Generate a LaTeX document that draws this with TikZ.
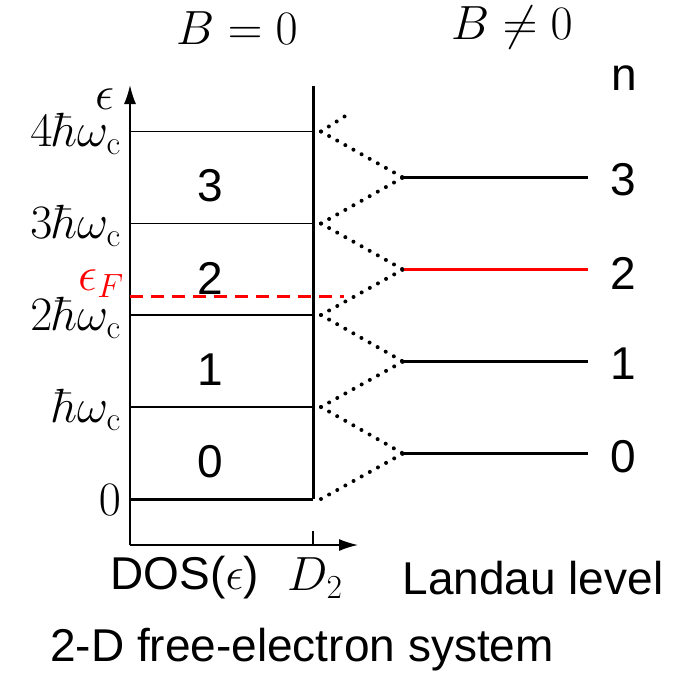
\RequirePackage{fix-cm}
\documentclass[tikz,border=0pt]{standalone}
\usepackage{fontspec}
\newfontfamily\arialf{Liberation Sans}
\usetikzlibrary{arrows.meta}
\begin{document}
\begin{tikzpicture}[x=1pt,y=-1pt,
  sf/.style={font=\arialf\fontsize{46}{52}\selectfont, inner sep=0pt},
  mth/.style={font=\fontsize{48}{56}\selectfont, inner sep=0pt},
  lvl/.style={line width=1.5pt},
  thickln/.style={line width=3pt},
  dots/.style={line width=4pt, line cap=round, dash pattern=on 0pt off 9.3pt},
  axis/.style={line width=1.5pt, -{Latex[length=19pt,width=12pt]}}
]
\useasboundingbox (0,0) rectangle (684,677);
% coordinates
\coordinate (O) at (130,545);
\coordinate (ytip) at (130,85);
\coordinate (xtip) at (358,545);
\foreach \i/\y in {0/499,1/407,2/315,3/223.5,4/131.5}{
  \coordinate (L\i) at (130,\y);
  \coordinate (R\i) at (313,\y);
  \coordinate (D\i) at (321,\y);
}
\coordinate (Rtop) at (313,86);
\coordinate (Dtop) at (350,113);
\foreach \n/\y in {0/453.5,1/361.5,2/269.5,3/177.5}{
  \coordinate (A\n) at (403,\y);
  \coordinate (B\n) at (588,\y);
}
% axes
\draw[axis] (O) -- (ytip);
\draw[axis] (O) -- (xtip);
\coordinate (tk) at (313,531);
\coordinate (tkb) at (313,545);
\draw[lvl] (tk) -- (tkb);
% DOS levels
\foreach \i in {1,2,3,4}{\draw[lvl] (L\i) -- (R\i);}
\draw[thickln] (L0) -- (R0);
\draw[thickln] (R0) -- (Rtop);
% Fermi level
\coordinate (F1) at (130,296.5);
\coordinate (F2) at (344,296.5);
\draw[red, line width=3pt, dash pattern=on 13pt off 8pt] (F1) -- (F2);
% Landau levels
\foreach \n in {0,1,3}{\draw[line width=3.5pt] (A\n) -- (B\n);}
\draw[red, line width=3.5pt] (A2) -- (B2);
% dotted connectors
\draw[dots] (D0) -- (A0);
\draw[dots] (D1) -- (A0);
\draw[dots] (D1) -- (A1);
\draw[dots] (D2) -- (A1);
\draw[dots] (D2) -- (A2);
\draw[dots] (D3) -- (A2);
\draw[dots] (D3) -- (A3);
\draw[dots] (D4) -- (A3);
\draw[dots] (D4) -- (Dtop);
% labels
\node[mth] (tB0) at (237,28) {$B=0$};
\node[mth] (tB1) at (512,28) {$B\neq0$};
\node[sf] (tn) at (624,78) {n};
\node[mth] (teps) at (105,99) {$\epsilon$};
\node[mth, anchor=east] (y4) at (121,134) {$4\hbar\omega_{\mathrm{c}}$};
\node[mth, anchor=east] (y3) at (121,226) {$3\hbar\omega_{\mathrm{c}}$};
\node[mth, anchor=east] (y2) at (121,318) {$2\hbar\omega_{\mathrm{c}}$};
\node[mth, anchor=east] (y1) at (121,410) {$\hbar\omega_{\mathrm{c}}$};
\node[mth, anchor=east] (y0) at (121,500) {$0$};
\node[mth, anchor=east, text=red] (tF) at (124,284) {$\epsilon_F$};
\foreach \n/\y in {3/186,2/278,1/370,0/462}{
  \node[sf] (box\n) at (210,\y) {\n};
}
\foreach \n/\y in {3/180,2/273,1/364,0/457}{
  \node[sf] (lab\n) at (623,\y) {\n};
}
\node[sf] (tdos) at (185,578) {DOS($\epsilon$)};
\node[mth] (tD) at (315,578) {$D_2$};
\node[sf] (tll) at (533,578) {Landau level};
\node[sf] (tsys) at (302,650) {2-D free-electron system};
\end{tikzpicture}
\end{document}
